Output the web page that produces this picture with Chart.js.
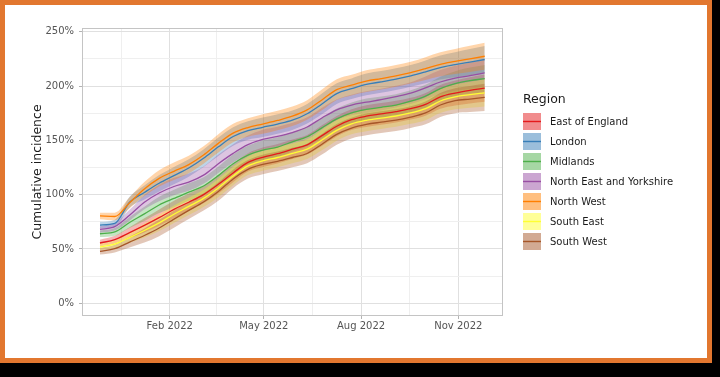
<!DOCTYPE html>
<html>
<head>
<meta charset="utf-8">
<title>Cumulative incidence by region</title>
<script src="https://cdn.jsdelivr.net/npm/chart.js@4.4.1/dist/chart.umd.min.js"></script>
<style>
  html, body { margin: 0; padding: 0; background: #000; }
  #frame { position: absolute; left: 0; top: 0; width: 702px; height: 353px; border: 5px solid #e2772f; background: #fff; }
  #chart { display: block; }
</style>
</head>
<body>
<div id="frame"><canvas id="chart" width="702" height="353"></canvas></div>
<script>
// --- data ---
const regions = ['East of England', 'London', 'Midlands', 'North East and Yorkshire', 'North West', 'South East', 'South West'];
const regionColors = ['#e41a1c', '#377eb8', '#4daf4a', '#984ea3', '#ff7f00', '#ffff33', '#a65628'];

const dates = ['2021-11-27', '2021-12-11', '2021-12-25', '2022-01-08', '2022-01-22', '2022-02-05', '2022-02-19',
  '2022-03-05', '2022-03-19', '2022-04-02', '2022-04-16', '2022-04-30', '2022-05-14', '2022-05-28', '2022-06-11',
  '2022-06-25', '2022-07-09', '2022-07-23', '2022-08-06', '2022-08-20', '2022-09-03', '2022-09-17', '2022-10-01',
  '2022-10-15', '2022-10-29', '2022-11-12', '2022-11-26'];

const eastOfEngland = [55.5, 58.6, 65, 71.7, 78.8, 86.5, 93, 100, 109.5, 120, 129.7, 134.4, 137.7, 141.8, 145.9, 154.3, 163, 169, 172.2, 174.3, 176.4, 179.1, 183.1, 190, 193.5, 196, 198];
const london = [72, 73.5, 93, 102, 110.5, 117.5, 124.5, 133.5, 144, 153.5, 159, 162, 165, 168.5, 174.5, 183.5, 193, 197.5, 201.5, 203.8, 206.3, 209.3, 213, 217, 219.6, 222, 224.4];
const midlands = [64, 65.7, 74.4, 82.3, 90.5, 96.5, 102.4, 108, 117.5, 128.5, 136.4, 141, 143.8, 148.6, 153.3, 161.5, 169.7, 175.3, 178.4, 180.4, 182.5, 186, 190.7, 197.6, 202.2, 205, 206.8];
const northEastYorks = [68, 70.5, 81, 93, 101.5, 107.5, 111.5, 118, 128.5, 138, 146, 150.8, 153.6, 157.2, 162.3, 170.6, 178.1, 182.5, 185.1, 187.5, 190.3, 193.5, 198.3, 203.7, 207.2, 209.5, 212];
const northWest = [80.4, 79.9, 92.5, 105.2, 115, 121.5, 127.7, 136.5, 147.2, 156.7, 161.8, 165, 168.3, 172.2, 178, 187.2, 196.7, 200.8, 204.5, 206.8, 209.3, 212.3, 216, 220, 222.6, 225, 227.4];
const southEast = [51.8, 54.5, 60.5, 67, 74, 82, 89.2, 96.6, 106.2, 117.2, 126.5, 131.1, 134.2, 138, 141.9, 150.3, 159.2, 165.1, 168.4, 170.5, 172.4, 175.2, 179.1, 186.2, 190, 192, 193.7];
const southWest = [47.8, 50.3, 56.3, 62.4, 69.3, 77.5, 85.5, 93.3, 103, 114.5, 123.3, 127.8, 130.7, 134.2, 137.9, 146.4, 155.5, 161.3, 164.7, 166.7, 168.5, 171.4, 175.2, 182.5, 186.5, 188, 189.5];
// half width of the shaded interval around each line
const bandHalfWidth = [3, 3.5, 5, 6.5, 7.5, 8, 8, 8, 8.5, 8.5, 8.5, 9, 9, 9, 9, 9.5, 9.5, 9.5, 10, 10, 10, 10, 10.5, 11, 11.5, 12, 12.5];

const seriesValues = [eastOfEngland, london, midlands, northEastYorks, northWest, southEast, southWest];

const yTickValues = [0, 50, 100, 150, 200, 250];
const yTickLabels = ['0%', '50%', '100%', '150%', '200%', '250%'];
const yMinorValues = [25, 75, 125, 175, 225];
const xTickDates = ['2022-02-01', '2022-05-01', '2022-08-01', '2022-11-01'];
const xTickLabels = ['Feb 2022', 'May 2022', 'Aug 2022', 'Nov 2022'];
const xMinorDates = ['2021-12-17', '2022-03-17', '2022-06-16', '2022-09-16'];

// --- helpers ---
const dayOf = s => (Date.parse(s + 'T00:00:00Z') - Date.UTC(2022, 0, 1)) / 86400000;
function rgba(hex, a) {
  const n = parseInt(hex.slice(1), 16);
  return `rgba(${n >> 16},${(n >> 8) & 255},${n & 255},${a})`;
}
function legendKey(color) {
  const c = document.createElement('canvas');
  c.width = 32; c.height = 18;
  const g = c.getContext('2d');
  g.fillStyle = rgba(color, 0.5);
  g.fillRect(0, 0, 18, 17);
  g.strokeStyle = color;
  g.lineWidth = 1.4;
  g.beginPath(); g.moveTo(0, 8.5); g.lineTo(18, 8.5); g.stroke();
  return c;
}

const days = dates.map(dayOf);
const xTickDays = xTickDates.map(dayOf);
const xGridDays = xTickDays.concat(xMinorDates.map(dayOf)).sort((a, b) => a - b);
const yGridValues = yTickValues.concat(yMinorValues).sort((a, b) => a - b);

const bandAlpha = 0.33;
const datasets = [];
// lines go first so they sit above all ribbons; last region ends up on top
for (let i = regions.length - 1; i >= 0; i--) {
  datasets.push({
    label: regions[i],
    data: seriesValues[i].map((v, k) => ({x: days[k], y: v})),
    borderColor: regionColors[i],
    borderWidth: 1.3,
    pointRadius: 0,
    fill: false,
    cubicInterpolationMode: 'monotone'
  });
}
for (let i = regions.length - 1; i >= 0; i--) {
  const up = datasets.length;
  datasets.push({
    label: regions[i] + ' upper',
    data: seriesValues[i].map((v, k) => ({x: days[k], y: v + bandHalfWidth[k]})),
    borderColor: 'rgba(0,0,0,0)',
    borderWidth: 0,
    pointRadius: 0,
    fill: false,
    cubicInterpolationMode: 'monotone'
  });
  datasets.push({
    label: regions[i] + ' lower',
    data: seriesValues[i].map((v, k) => ({x: days[k], y: v - bandHalfWidth[k]})),
    borderColor: 'rgba(0,0,0,0)',
    borderWidth: 0,
    pointRadius: 0,
    backgroundColor: rgba(regionColors[i], bandAlpha),
    fill: up,
    cubicInterpolationMode: 'monotone'
  });
}

const panelBorder = {
  id: 'panelBorder',
  afterDatasetsDraw(chart) {
    const {ctx, chartArea: a} = chart;
    ctx.save();
    ctx.strokeStyle = '#c4c4c4';
    ctx.lineWidth = 1;
    ctx.strokeRect(a.left + 0.5, a.top + 0.5, a.right - a.left - 1, a.bottom - a.top - 1);
    ctx.restore();
  }
};

Chart.defaults.font.family = "'DejaVu Sans', sans-serif";

const isYMajor = v => yTickValues.includes(v);
const isXMajor = v => xTickDays.includes(v);

new Chart(document.getElementById('chart'), {
  type: 'line',
  data: {datasets: datasets},
  plugins: [panelBorder],
  options: {
    responsive: false,
    animation: false,
    devicePixelRatio: 1,
    events: [],
    layout: {padding: {top: 23, right: 34, bottom: 0, left: 0}},
    scales: {
      x: {
        type: 'linear',
        min: -52,
        max: 346.3,
        bounds: 'data',
        afterBuildTicks: s => { s.ticks = xGridDays.map(v => ({value: v})); },
        afterFit: s => { s.height = 42; },
        border: {display: false},
        grid: {
          color: c => isXMajor(c.tick.value) ? '#e0e0e0' : '#efefef',
          tickColor: c => isXMajor(c.tick.value) ? '#b3b3b3' : 'rgba(0,0,0,0)',
          tickLength: 3
        },
        ticks: {
          autoSkip: false,
          maxRotation: 0,
          padding: 1,
          color: '#555',
          font: {size: 10},
          callback: v => { const i = xTickDays.indexOf(v); return i < 0 ? '' : xTickLabels[i]; }
        }
      },
      y: {
        min: -11.7,
        max: 253.4,
        bounds: 'data',
        afterBuildTicks: s => { s.ticks = yGridValues.map(v => ({value: v})); },
        afterFit: s => { s.width = 77; },
        border: {display: false},
        grid: {
          color: c => isYMajor(c.tick.value) ? '#e0e0e0' : '#efefef',
          tickColor: c => isYMajor(c.tick.value) ? '#b3b3b3' : 'rgba(0,0,0,0)',
          tickLength: 3
        },
        ticks: {
          padding: 5,
          color: '#555',
          font: {size: 10},
          callback: v => { const i = yTickValues.indexOf(v); return i < 0 ? '' : yTickLabels[i]; }
        },
        title: {
          display: true,
          text: 'Cumulative incidence',
          color: '#1a1a1a',
          font: {size: 12.5},
          padding: {top: 25, bottom: 0}
        }
      },
      gap: {
        position: 'right',
        display: true,
        afterFit: s => { s.width = 20; },
        border: {display: false},
        grid: {display: false},
        ticks: {display: false}
      }
    },
    plugins: {
      tooltip: {enabled: false},
      legend: {
        position: 'right',
        align: 'start',
        maxWidth: 150,
        title: {
          display: true,
          text: 'Region',
          position: 'start',
          color: '#1a1a1a',
          font: {size: 12.5, lineHeight: 1.1},
          padding: {top: 65.25, bottom: 0}
        },
        labels: {
          usePointStyle: true,
          pointStyleWidth: 12,
          padding: 10,
          color: '#1a1a1a',
          font: {size: 10},
          generateLabels: () => regions.map((name, i) => ({
            text: name,
            pointStyle: legendKey(regionColors[i]),
            fillStyle: 'rgba(0,0,0,0)',
            strokeStyle: 'rgba(0,0,0,0)',
            lineWidth: 0,
            hidden: false,
            datasetIndex: regions.length - 1 - i
          }))
        }
      }
    }
  }
});
</script>
</body>
</html>
